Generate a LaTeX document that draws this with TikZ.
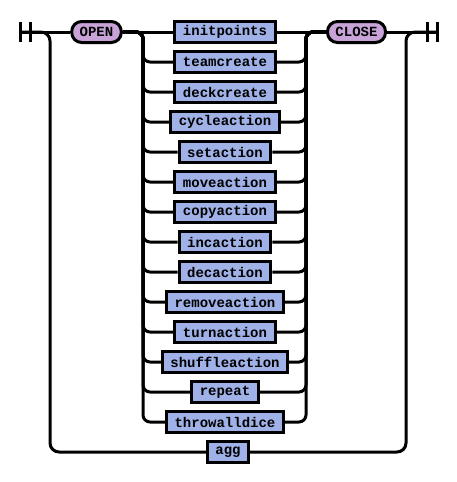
\documentclass[tikz,border=0pt]{standalone}
\usepackage{fontspec}
\setmonofont{Liberation Mono}
\usetikzlibrary{calc}
\definecolor{ntfill}{HTML}{9FB1E6}
\definecolor{tfill}{HTML}{C8A3D8}
\tikzset{
 rail/.style={draw=black, line width=3pt, rounded corners=7pt},
 nonterm/.style={draw=black, fill=ntfill, line width=3pt, inner xsep=8pt, inner ysep=0pt,
   minimum height=21pt, font=\fontsize{14}{14}\selectfont\ttfamily\bfseries},
 term/.style={nonterm, fill=tfill, rounded corners=10pt},
}

\begin{document}
\begin{tikzpicture}[x=1pt, y=-1pt]
\useasboundingbox (0,0) rectangle (457,482);
\coordinate (start) at (20,32);
\coordinate (finish) at (437,32);
\coordinate (ol) at (50,32);
\coordinate (or) at (406,32);
\coordinate (cl) at (143,32);
\coordinate (cr) at (306,32);

% end bars
\draw[line width=3pt] ($(start)+(0,-10)$) -- ($(start)+(0,10)$);
\draw[line width=3pt] ($(start)+(10,-10)$) -- ($(start)+(10,10)$);
\draw[line width=3pt] ($(finish)+(0,-10)$) -- ($(finish)+(0,10)$);
\draw[line width=3pt] ($(finish)+(-10,-10)$) -- ($(finish)+(-10,10)$);

\node[term] (open) at (96.5,32) {OPEN};
\node[term] (close) at (356.5,32) {CLOSE};
\node[nonterm] (agg) at (228,452) {agg};

\foreach \name [count=\i] in {initpoints, teamcreate, deckcreate, cycleaction, setaction,
  moveaction, copyaction, incaction, decaction, removeaction, turnaction, shuffleaction,
  repeat, throwalldice} {
 \node[nonterm] (\name) at (225,{32+30*(\i-1)}) {\name};
 \ifnum\i=1
  \draw[rail] (open.east) -- (\name.west);
  \draw[rail] (\name.east) -- (close.west);
 \else
  \draw[rail] (open.east) -| (cl |- \name) -- (\name.west);
  \draw[rail] (\name.east) -| (cr) -- (close.west);
 \fi
};

\draw[rail] (start) -- (open.west);
\draw[rail] (close.east) -- (finish);
\draw[rail, rounded corners=9pt] (start) -| (ol |- agg) -- (agg.west);
\draw[rail, rounded corners=9pt] (agg.east) -| (or) -- (finish);
\end{tikzpicture}
\end{document}
